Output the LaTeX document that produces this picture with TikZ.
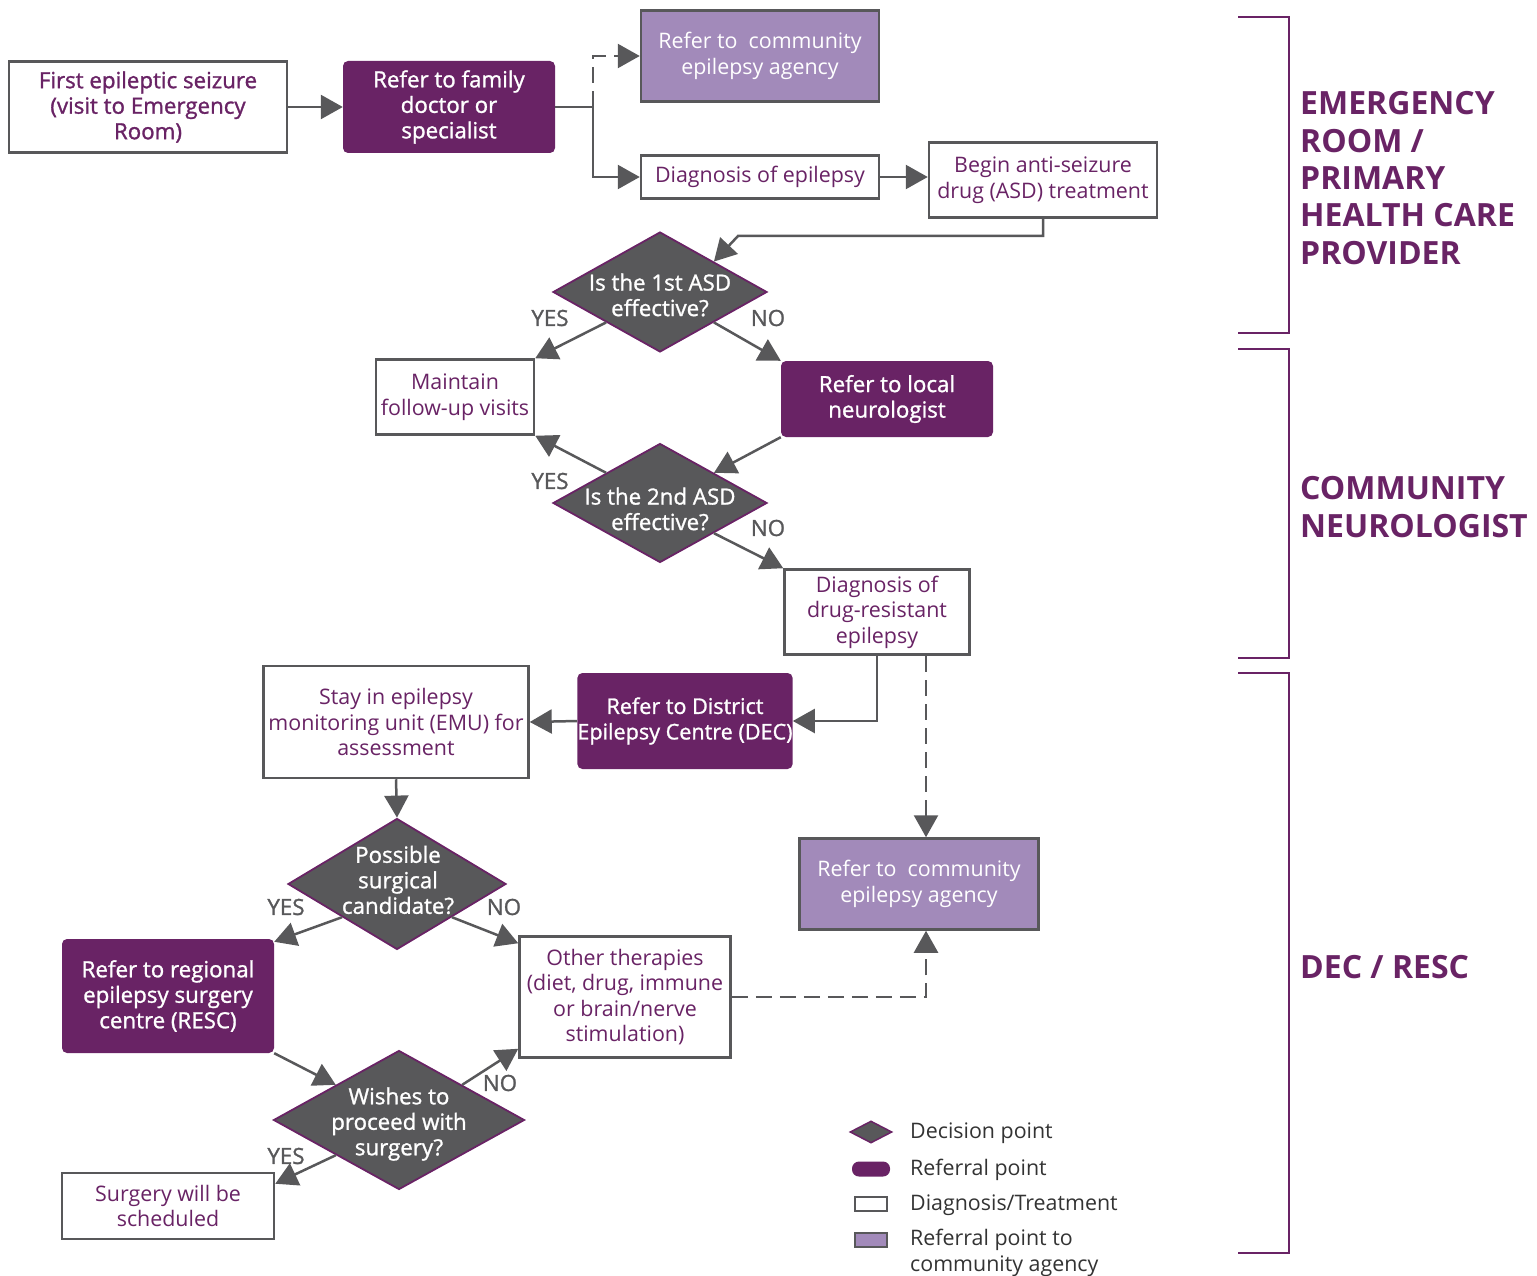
\documentclass[tikz,border=0pt]{standalone}
\usepackage{fontspec}
\setmainfont{Open Sans}
\newfontfamily\semibold[FakeBold=1.2]{Open Sans}
\usetikzlibrary{shapes.geometric,arrows.meta}
\definecolor{plum}{HTML}{692365}
\definecolor{lilac}{HTML}{A28ABA}
\definecolor{slate}{HTML}{58585A}
\definecolor{ink}{HTML}{333333}

\begin{document}
\begin{tikzpicture}[x=1pt,y=-1pt]
    \tikzstyle{txt}=[font=\fontsize{21.4}{25.5}\selectfont, align=center, inner sep=0pt]
    \tikzstyle{bold}=[font=\fontsize{22.3}{25.5}\selectfont\semibold]
    \tikzstyle{diag}=[txt, rectangle, draw=slate, line width=2.5pt, fill=white, text=plum]
    \tikzstyle{referral}=[txt, bold, rectangle, rounded corners=5pt, fill=plum, text=white]
    \tikzstyle{agency}=[txt, rectangle, draw=slate, line width=2.5pt, fill=lilac, text=white]
    \tikzstyle{decision}=[diamond, draw=plum, line width=1.8pt, fill=slate, inner sep=0pt]
    \tikzstyle{question}=[txt, bold, text=white]
    \tikzstyle{answer}=[bold, text=slate, inner sep=0pt]
    \tikzstyle{arr}=[draw=slate, line width=2.5pt, -{Triangle[length=22pt,width=24pt]}]
    \tikzstyle{dasharr}=[arr, dash pattern=on 16pt off 8pt]
    \tikzstyle{bracket}=[draw=plum, line width=2.5pt]
    \tikzstyle{group}=[font=\fontsize{32}{37.3}\selectfont\bfseries, text=plum, align=left, anchor=west, inner sep=0pt]
    \tikzstyle{keytxt}=[font=\fontsize{21.4}{25.5}\selectfont, text=ink, align=left, anchor=west, inner sep=0pt]

    \useasboundingbox (0,0) rectangle (1537,1276);

    % emergency room / primary care
    \node[diag, bold, minimum width=278pt, minimum height=91pt] (first) at (148,107) {First epileptic seizure\\(visit to Emergency\\Room)};
    \node[referral, minimum width=212pt, minimum height=92pt] (family) at (449,107) {Refer to family\\doctor or\\specialist};
    \node[agency, minimum width=238pt, minimum height=91pt] (agencyA) at (760,56) {Refer to\ \ community\\epilepsy agency};
    \node[diag, minimum width=238pt, minimum height=43pt] (diagep) at (760,177) {Diagnosis of epilepsy};
    \node[diag, minimum width=228pt, minimum height=75pt] (begin) at (1043,180) {Begin anti-seizure\\drug (ASD) treatment};

    % community neurologist
    \node[decision, minimum width=214pt, minimum height=120pt] (asd1) at (660,292) {};
    \node[question] (asd1q) at (660,295) {Is the 1st ASD\\effective?};
    \node[diag, minimum width=158pt, minimum height=75pt] (maintain) at (455,397) {Maintain\\follow-up visits};
    \node[referral, minimum width=212pt, minimum height=76pt] (neuro) at (887,399) {Refer to local\\neurologist};
    \node[decision, minimum width=214pt, minimum height=119pt] (asd2) at (660,503) {};
    \node[question] (asd2q) at (660,509) {Is the 2nd ASD\\effective?};
    \node[diag, minimum width=185pt, minimum height=85pt] (drug) at (877,612) {Diagnosis of\\drug-resistant\\epilepsy};

    % DEC / RESC
    \node[referral, font=\fontsize{21.6}{25.5}\selectfont\semibold, minimum width=213pt, minimum height=96pt] (dec) at (685,721) {Refer to District\\Epilepsy Centre (DEC)};
    \node[diag, minimum width=265pt, minimum height=112pt] (emu) at (396,722) {Stay in epilepsy\\monitoring unit (EMU) for\\assessment};
    \node[agency, minimum width=239pt, minimum height=91pt] (agencyB) at (919,884) {Refer to\ \ community\\epilepsy agency};
    \node[decision, minimum width=218pt, minimum height=131pt] (cand) at (397,884) {};
    \node[question] (candq) at (398,880) {Possible\\surgical\\candidate?};
    \node[referral, minimum width=212pt, minimum height=114pt] (resc) at (168,996) {Refer to regional\\epilepsy surgery\\centre (RESC)};
    \node[diag, minimum width=211pt, minimum height=121pt] (other) at (625,997) {Other therapies\\(diet, drug, immune\\or brain/nerve\\stimulation)};
    \node[decision, minimum width=251pt, minimum height=139pt] (wish) at (399,1120) {};
    \node[question] (wishq) at (399,1124) {Wishes to\\proceed with\\surgery?};
    \node[diag, minimum width=212pt, minimum height=66pt] (surgery) at (168,1206) {Surgery will be\\scheduled};

    % connectors
    \coordinate (fork) at (593,107);
    \coordinate (bend) at (738,236);
    \coordinate (drop) at (926,656);
    \draw[arr] (first.east) -- (family.west);
    \draw[slate, line width=2.5pt] (family.east) -- (fork);
    \draw[arr] (fork) |- (diagep.west);
    \draw[dasharr] (fork) |- (agencyA.west);
    \draw[arr] (diagep.east) -- (diagep.east -| begin.west);
    \draw[arr] (begin.south) |- (bend) -- (asd1.north east);
    \draw[arr] (asd1.south west) -- (maintain.north east);
    \draw[arr] (asd1.south east) -- (neuro.north west);
    \draw[arr] (neuro.south west) -- (asd2.north east);
    \draw[arr] (asd2.north west) -- (maintain.south east);
    \draw[arr] (asd2.south east) -- (drug.north west);
    \draw[arr] (drug.south) |- (dec.east);
    \draw[dasharr] (drop) -- (drop |- agencyB.north);
    \draw[arr] (dec.west) -- (emu.east);
    \draw[arr] (emu.south) -- (cand.north);
    \draw[arr] (cand.south west) -- ([yshift=-3pt]resc.north east);
    \draw[arr] (cand.south east) -- ([yshift=-8pt]other.north west);
    \draw[arr] (resc.south east) -- (wish.north west);
    \draw[arr] (wish.north east) -- ([yshift=10pt]other.south west);
    \draw[arr] (wish.south west) -- ([yshift=-12pt]surgery.north east);
    \draw[dasharr] (other.east) -| (drop |- agencyB.south);

    % yes / no
    \node[answer] (y1) at (550,318) {YES};
    \node[answer] (n1) at (768,318) {NO};
    \node[answer] (y2) at (550,481) {YES};
    \node[answer] (n2) at (768,528) {NO};
    \node[answer] (y3) at (286,907) {YES};
    \node[answer] (n3) at (504,907) {NO};
    \node[answer] (n4) at (500,1083) {NO};
    \node[answer] (y4) at (286,1156) {YES};

    % brackets
    \draw[bracket] (1238,17) -- (1289,17) -- (1289,333) -- (1238,333);
    \draw[bracket] (1238,349) -- (1289,349) -- (1289,658) -- (1238,658);
    \draw[bracket] (1238,673) -- (1289,673) -- (1289,1253) -- (1238,1253);
    \node[group] (er) at (1300,178) {EMERGENCY\\ROOM /\\PRIMARY\\HEALTH CARE\\PROVIDER};
    \node[group] (cn) at (1300,507) {COMMUNITY\\NEUROLOGIST};
    \node[group] (dr) at (1300,967) {DEC / RESC};

    % key
    \node[decision, minimum width=42pt, minimum height=22pt, line width=1.5pt] (keydec) at (871,1132) {};
    \node[referral, minimum width=38pt, minimum height=15pt, rounded corners=7pt] (keyref) at (871,1169) {};
    \node[diag, minimum width=32pt, minimum height=14pt] (keydiag) at (871,1204) {};
    \node[agency, minimum width=32pt, minimum height=14pt] (keyagency) at (871,1240) {};
    \node[keytxt] (keydect) at (910,1133) {Decision point};
    \node[keytxt] (keyreft) at (910,1170) {Referral point};
    \node[keytxt] (keydiagt) at (910,1205) {Diagnosis/Treatment};
    \node[keytxt] (keyagencyt) at (910,1253) {Referral point to\\community agency};
\end{tikzpicture}
\end{document}
